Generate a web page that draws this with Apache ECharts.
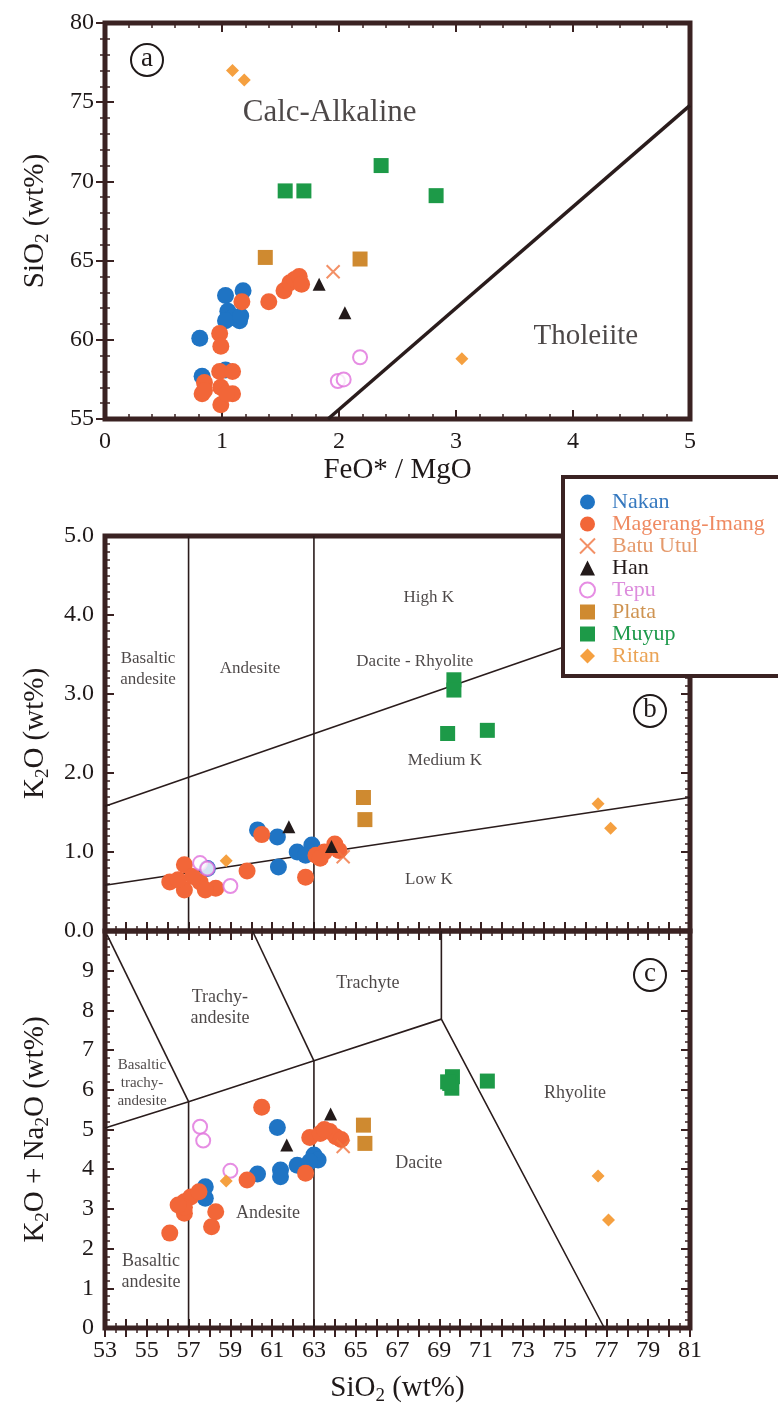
<!DOCTYPE html>
<html>
<head>
<meta charset="utf-8">
<script src="https://cdn.jsdelivr.net/npm/echarts@6/dist/echarts.min.js"></script>
<style>
  html, body { margin: 0; padding: 0; background: #fff; }
  #main { width: 778px; height: 1407px; }
</style>
</head>
<body>
<div id="main"></div>
<script>
(function () {
    "use strict";

    // ---- panel (a): FeO*/MgO vs SiO2 ----
    var nakanA = [[0.81, 60.1], [1.03, 62.8], [1.18, 63.1], [1.05, 61.8], [1.09, 61.4], [1.15, 61.2], [1.03, 61.2], [1.16, 61.5], [0.83, 57.7], [1.03, 58.1]];
    var magerangA = [[1.17, 62.4], [1.40, 62.4], [1.53, 63.1], [1.58, 63.6], [1.62, 63.8], [1.66, 64.0], [1.68, 63.5], [0.98, 60.4], [0.99, 59.6], [0.98, 58.0], [1.09, 58.0], [0.85, 57.3], [0.83, 56.6], [0.99, 57.0], [1.09, 56.6], [0.99, 55.9], [0.85, 56.8], [1.04, 56.6]];
    var batuA = [[1.95, 64.3]];
    var hanA = [[1.83, 63.5], [2.05, 61.7]];
    var tepuA = [[2.18, 58.9], [1.99, 57.4], [2.04, 57.5]];
    var plataA = [[1.37, 65.2], [2.18, 65.1]];
    var muyupA = [[1.54, 69.4], [1.70, 69.4], [2.36, 71.0], [2.83, 69.1]];
    var ritanA = [[1.09, 77.0], [1.19, 76.4], [3.05, 58.8]];

    // ---- panel (b): SiO2 vs K2O ----
    var nakanB = [[60.3, 1.28], [61.25, 1.19], [61.3, 0.81], [62.2, 1.00], [62.9, 1.09], [62.6, 0.96], [57.9, 0.79]];
    var magerangB = [[60.5, 1.22], [59.8, 0.76], [62.6, 0.68], [56.1, 0.62], [56.8, 0.84], [56.8, 0.52], [57.55, 0.62], [58.3, 0.54], [57.2, 0.69], [63.1, 0.96], [63.5, 1.0], [64.0, 1.10], [63.3, 0.92], [64.2, 1.02], [56.5, 0.65], [57.8, 0.52]];
    var batuB = [[64.4, 0.94]];
    var hanB = [[61.8, 1.32], [63.84, 1.07]];
    var tepuB = [[57.55, 0.86], [57.9, 0.79], [59.0, 0.57]];
    var plataB = [[65.37, 1.69], [65.44, 1.41]];
    var muyupB = [[69.7, 3.18], [69.7, 3.05], [69.4, 2.5], [71.3, 2.54]];
    var ritanB = [[76.6, 1.61], [77.2, 1.30], [58.8, 0.89]];

    // ---- panel (c): SiO2 vs K2O + Na2O ----
    var nakanC = [[61.25, 5.05], [60.3, 3.88], [61.4, 3.98], [61.4, 3.81], [62.2, 4.10], [63.0, 4.36], [63.2, 4.23], [62.8, 4.19], [57.8, 3.56], [57.8, 3.27]];
    var magerangC = [[60.5, 5.56], [62.8, 4.80], [63.3, 4.90], [63.76, 4.95], [64.05, 4.82], [64.3, 4.75], [63.5, 5.0], [62.6, 3.90], [59.8, 3.73], [56.1, 2.39], [56.8, 2.89], [56.8, 3.18], [57.1, 3.30], [57.5, 3.43], [58.3, 2.93], [58.1, 2.55], [56.8, 3.04], [56.5, 3.1]];
    var batuC = [[64.4, 4.57]];
    var hanC = [[63.8, 5.39], [61.7, 4.61]];
    var tepuC = [[57.55, 5.07], [57.7, 4.72], [59.0, 3.96]];
    var plataC = [[65.37, 5.11], [65.44, 4.65]];
    var muyupC = [[69.63, 6.33], [69.5, 6.16], [69.6, 6.04], [71.3, 6.22], [69.4, 6.2]];
    var ritanC = [[76.6, 3.83], [77.1, 2.72], [58.8, 3.70]];

    // ---- boundary lines ----
    var tholeiiteLine = [[1.906, 55], [5, 74.8]];
    var lowKLine = [[53, 0.58], [81, 1.69]];
    var highKLine = [[53, 1.58], [81, 4.15]];
    var kVert57 = [[57, 0], [57, 5]];
    var kVert63 = [[63, 0], [63, 5]];
    var tasLower = [[53, 5.04], [57, 5.7], [63, 6.73], [69.1, 7.78]];
    var tasBta = [[53.1, 9.9], [57, 5.7]];
    var tasTa = [[60.06, 10], [63, 6.73]];
    var tasRhy = [[69.1, 10], [69.1, 7.78], [76.9, 0]];
    var tasVert57 = [[57, 0], [57, 5.7]];
    var tasVert63 = [[63, 0], [63, 6.73]];

    // ---- field names [x, y, text] ----
    var fieldsA = [[1.92, 74.3, 'Calc-Alkaline'], [4.11, 60.2, 'Tholeiite']];
    var fieldsB = [[55.06, 3.32, 'Basaltic\nandesite'], [59.94, 3.32, 'Andesite'], [67.83, 3.41, 'Dacite - Rhyolite'],
        [68.5, 4.22, 'High K'], [69.27, 2.16, 'Medium K'], [68.5, 0.65, 'Low K']];
    var fieldsC = [[65.58, 8.69, 'Trachyte'], [58.5, 8.07, 'Trachy-\nandesite'], [75.49, 5.92, 'Rhyolite'],
        [68.02, 4.16, 'Dacite'], [60.8, 2.90, 'Andesite'], [55.2, 1.41, 'Basaltic\nandesite']];
    var fieldsCsmall = [[54.77, 6.17, 'Basaltic\ntrachy-\nandesite']];

    var FONT = '"Liberation Serif", "Times New Roman", serif';
    var INK = '#3a2222';
    var TXT = '#1f1919';
    var crossPath = 'path://M0,0L10,10M10,0L0,10';

    var groups = [
        {name: 'Nakan', symbol: 'circle', size: 17, color: '#1f74c4', text: '#3578bf', a: nakanA, b: nakanB, c: nakanC},
        {name: 'Magerang-Imang', symbol: 'circle', size: 17, color: '#f26638', text: '#ef8a62', a: magerangA, b: magerangB, c: magerangC},
        {name: 'Batu Utul', symbol: crossPath, size: 13, color: '#f07440', text: '#e59a6c', a: batuA, b: batuB, c: batuC},
        {name: 'Han', symbol: 'triangle', size: 13, color: '#231a1a', text: '#231a1a', a: hanA, b: hanB, c: hanC},
        {name: 'Tepu', symbol: 'emptyCircle', size: 14, color: '#e070dc', text: '#dd8ddd', a: tepuA, b: tepuB, c: tepuC},
        {name: 'Plata', symbol: 'rect', size: 15, color: '#cf8a30', text: '#cf9452', a: plataA, b: plataB, c: plataC},
        {name: 'Muyup', symbol: 'rect', size: 15, color: '#1d9a48', text: '#1f9a4c', a: muyupA, b: muyupB, c: muyupC},
        {name: 'Ritan', symbol: 'diamond', size: 13, color: '#f5a040', text: '#eba456', a: ritanA, b: ritanB, c: ritanC}
    ];

    var myChart = echarts.init(document.getElementById('main'), null, {renderer: 'canvas'});

    var nameRich = {
        n: {fontFamily: FONT, fontSize: 29, color: TXT, lineHeight: 36},
        s: {fontFamily: FONT, fontSize: 19, color: TXT, lineHeight: 19, verticalAlign: 'bottom'}
    };
    var labelStyle = {fontFamily: FONT, fontSize: 24, color: TXT};

    function axis(grid, min, max, iv, pos, labels, extra) {
        var ax = {
            type: 'value', gridIndex: grid, min: min, max: max, interval: iv, position: pos,
            axisLine: {show: false},
            axisTick: {show: true, inside: true, length: 9, lineStyle: {color: INK, width: 2}},
            minorTick: {show: true, splitNumber: extra.minor, length: 5, lineStyle: {color: INK, width: 1.5}},
            splitLine: {show: false},
            axisLabel: labels ? Object.assign({show: true, margin: 11, formatter: extra.fmt}, labelStyle) : {show: false}
        };
        return Object.assign(ax, extra.more || {});
    }

    var evenSi = function (v) { return (v - 53) % 2 === 0 ? String(v) : ''; };

    var xAxis = [
        axis(0, 0, 5, 1, 'bottom', true, {minor: 5, more: {
            name: 'FeO* / MgO', nameLocation: 'middle', nameGap: 37,
            nameTextStyle: {fontFamily: FONT, fontSize: 29, color: TXT}}}),
        axis(0, 0, 5, 1, 'top', false, {minor: 5}),
        axis(1, 53, 81, 1, 'bottom', false, {minor: 2}),
        axis(1, 53, 81, 1, 'top', false, {minor: 2}),
        axis(2, 53, 81, 1, 'bottom', true, {minor: 2, fmt: evenSi, more: {
            name: '{n|SiO}{s|2}{n| (wt%)}', nameLocation: 'middle', nameGap: 42,
            nameTextStyle: {rich: nameRich}}}),
        axis(2, 53, 81, 1, 'top', false, {minor: 2})
    ];
    var yAxis = [
        axis(0, 55, 80, 5, 'left', true, {minor: 5, more: {
            name: '{n|SiO}{s|2}{n| (wt%)}', nameLocation: 'middle', nameGap: 52, nameRotate: 90,
            nameTextStyle: {rich: nameRich}}}),
        axis(0, 55, 80, 5, 'right', false, {minor: 5}),
        axis(1, 0, 5, 1, 'left', true, {minor: 10, fmt: function (v) { return v.toFixed(1); }, more: {
            name: '{n|K}{s|2}{n|O (wt%)}', nameLocation: 'middle', nameGap: 52, nameRotate: 90,
            nameTextStyle: {rich: nameRich}}}),
        axis(1, 0, 5, 1, 'right', false, {minor: 10}),
        axis(2, 0, 10, 1, 'left', true, {minor: 5, fmt: function (v) { return v === 10 ? '' : String(v); }, more: {
            name: '{n|K}{s|2}{n|O + Na}{s|2}{n|O (wt%)}', nameLocation: 'middle', nameGap: 52, nameRotate: 90,
            nameTextStyle: {rich: nameRich}}}),
        axis(2, 0, 10, 1, 'right', false, {minor: 5})
    ];

    var series = [];
    var panelKeys = ['a', 'b', 'c'];

    function lineSeries(data, panel, width) {
        series.push({
            type: 'line', xAxisIndex: panel * 2, yAxisIndex: panel * 2, data: data,
            symbol: 'none', silent: true, z: 1, animation: false,
            lineStyle: {color: '#2a1c1c', width: width}
        });
    }
    function fieldSeries(list, panel, size, lh) {
        series.push({
            type: 'scatter', xAxisIndex: panel * 2, yAxisIndex: panel * 2, silent: true, z: 1,
            symbolSize: 1, itemStyle: {color: 'rgba(0,0,0,0)'},
            label: {show: true, position: 'inside', formatter: '{b}', fontFamily: FONT, fontSize: size,
                color: TXT, lineHeight: lh, align: 'center'},
            data: list.map(function (d) { return {name: d[2], value: [d[0], d[1]]}; })
        });
    }

    lineSeries(tholeiiteLine, 0, 3.5);
    [lowKLine, highKLine, kVert57, kVert63].forEach(function (d) { lineSeries(d, 1, 1.6); });
    [tasLower, tasBta, tasTa, tasRhy, tasVert57, tasVert63].forEach(function (d) { lineSeries(d, 2, 1.6); });

    fieldSeries(fieldsA.slice(0, 1), 0, 31, 34);
    fieldSeries(fieldsA.slice(1), 0, 29, 32);
    fieldSeries(fieldsB, 1, 17, 21);
    fieldSeries(fieldsC, 2, 18, 21);
    fieldSeries(fieldsCsmall, 2, 15, 18);

    panelKeys.forEach(function (key, p) {
        groups.forEach(function (g) {
            var isCross = g.symbol === crossPath;
            series.push({
                name: g.name, type: 'scatter', xAxisIndex: p * 2, yAxisIndex: p * 2,
                symbol: g.symbol, symbolSize: g.size, symbolKeepAspect: true, z: 3, data: g[key],
                itemStyle: isCross ? {color: 'rgba(0,0,0,0)', borderColor: g.color, borderWidth: 2}
                    : (g.symbol === 'emptyCircle' ? {color: g.color, borderWidth: 1.6} : {color: g.color, opacity: 1})
            });
        });
    });

    function circled(letter, x, y) {
        return {
            type: 'group', x: x, y: y, z: 10,
            children: [
                {type: 'circle', shape: {cx: 0, cy: 0, r: 16}, style: {fill: '#fff', stroke: TXT, lineWidth: 2}},
                {type: 'text', x: 0, y: -1, style: {text: letter, fontFamily: FONT, fontSize: 27, fill: TXT,
                    align: 'center', verticalAlign: 'middle'}}
            ]
        };
    }

    var option = {
        animation: false,
        backgroundColor: '#fff',
        grid: [
            {left: 105, top: 23, width: 585, height: 396, show: true, borderColor: INK, borderWidth: 5, backgroundColor: 'transparent'},
            {left: 105, top: 536, width: 585, height: 395, show: true, borderColor: INK, borderWidth: 5, backgroundColor: 'transparent'},
            {left: 105, top: 931, width: 585, height: 397, show: true, borderColor: INK, borderWidth: 5, backgroundColor: 'transparent'}
        ],
        xAxis: xAxis,
        yAxis: yAxis,
        legend: {
            orient: 'vertical', left: 563, top: 477, z: 20,
            backgroundColor: '#fff', borderColor: INK, borderWidth: 4,
            padding: [14, 60, 9, 16], itemGap: 0, itemWidth: 15, itemHeight: 15,
            selectedMode: false,
            textStyle: {fontFamily: FONT, fontSize: 22, lineHeight: 21.5, padding: [0, 0, 0, 12]},
            data: groups.map(function (g) { return {name: g.name, textStyle: {color: g.text}}; })
        },
        graphic: [circled('a', 147, 60), circled('b', 650, 711), circled('c', 650, 975)],
        series: series
    };

    myChart.setOption(option);
})();
</script>
</body>
</html>
